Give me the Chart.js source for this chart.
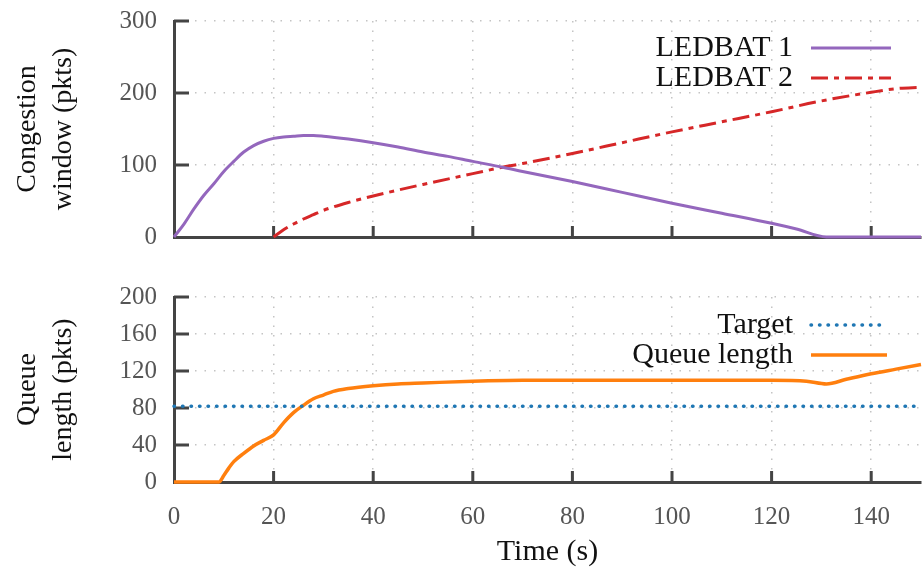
<!DOCTYPE html>
<html>
<head>
<meta charset="utf-8">
<script src="https://cdn.jsdelivr.net/npm/chart.js@4.4.1/dist/chart.umd.min.js"></script>
<style>
  body { margin: 0; background: #fff; }
  #wrap { position: relative; width: 923px; height: 573px; }
  canvas { position: absolute; left: 0; }
  #cwnd { top: 0; }
  #queue { top: 260px; }
</style>
</head>
<body>
<div id="wrap">
  <canvas id="cwnd" width="923" height="260"></canvas>
  <canvas id="queue" width="923" height="313"></canvas>
</div>
<script>
// congestion window of the two flows (pkts)
const cwndTime = [0, 2, 4, 6, 8, 10, 12, 14, 16, 18, 20, 22, 24, 26, 28, 30, 35, 40, 45, 50, 55, 60, 66, 70, 80, 90, 100, 110, 120, 125, 131, 140, 150];
const ledbat1  = [0, 18, 39, 58, 74, 91, 105, 118, 127, 133, 137, 139, 140, 141, 141, 140, 136, 131, 125, 118, 112, 105, 97, 91, 77, 62, 47, 33, 19, 11, 0, 0, 0];

const ledbat2Time = [20, 22, 24, 26, 28, 30, 35, 40, 50, 60, 66, 70, 80, 90, 100, 110, 120, 130, 140, 145, 150];
const ledbat2     = [0, 10, 18, 25, 31, 37, 48, 57, 73, 88, 97, 102, 116, 131, 146, 160, 174, 189, 201, 206, 208];

// bottleneck queue (pkts)
const queueTime = [0, 9, 10, 11, 12, 14, 16, 18, 20, 22, 24, 26, 28, 30, 32, 35, 40, 45, 50, 60, 70, 80, 90, 100, 110, 120, 127, 131, 135, 140, 145, 150];
const queueLen  = [0, 0, 7, 15, 22, 31, 39, 45, 51, 64, 75, 83, 90, 94, 98, 101, 104, 106, 107, 109, 110, 110, 110, 110, 110, 110, 109, 106, 111, 117, 122, 127];
const target = 82;

const axisColor = '#444';
const tickColor = '#555';
const gridColor = '#c4c4c4';
const serif = 'Liberation Serif';

Chart.defaults.font.family = serif;
Chart.defaults.color = tickColor;

function pts(xs, ys) {
  return xs.map((x, i) => ({ x: x, y: ys[i] }));
}

// gnuplot-style tick marks pointing into the plot
const innerTicks = {
  id: 'innerTicks',
  beforeDatasetsDraw(chart) {
    const { ctx, chartArea: a } = chart;
    const x = chart.scales.x, y = chart.scales.y;
    ctx.save();
    ctx.strokeStyle = axisColor;
    ctx.lineWidth = 3;
    ctx.beginPath();
    x.ticks.forEach(t => {
      if (t.value === 0) return;
      const px = x.getPixelForValue(t.value);
      ctx.moveTo(px, a.bottom);
      ctx.lineTo(px, a.bottom - 11);
    });
    y.ticks.forEach(t => {
      if (t.value === 0) return;
      const py = y.getPixelForValue(t.value);
      ctx.moveTo(a.left, py);
      ctx.lineTo(a.left + 15, py);
    });
    ctx.stroke();
    ctx.restore();
  }
};

// key in the top right corner: text first, sample line after it
const sideLegend = {
  id: 'sideLegend',
  afterDatasetsDraw(chart, args, opts) {
    const { ctx, chartArea: a } = chart;
    const x2 = a.right - opts.right;
    const x1 = x2 - opts.length;
    chart.data.datasets.forEach((ds, i) => {
      const y = a.top + opts.top + i * opts.step;
      ctx.save();
      ctx.font = '30px "' + serif + '"';
      ctx.fillStyle = '#111';
      ctx.textAlign = 'right';
      ctx.textBaseline = 'middle';
      ctx.fillText(ds.label, x1 - 18, y);
      ctx.strokeStyle = ds.borderColor;
      ctx.lineWidth = ds.borderWidth;
      ctx.lineCap = ds.borderCapStyle || 'butt';
      ctx.setLineDash(ds.borderDash || []);
      ctx.beginPath();
      ctx.moveTo(x1, y);
      ctx.lineTo(x2, y);
      ctx.stroke();
      ctx.restore();
    });
  }
};

function xAxis(showLabels, height) {
  return {
    type: 'linear',
    min: 0,
    max: 150,
    ticks: {
      display: showLabels,
      stepSize: 20,
      includeBounds: false,
      padding: 20,
      color: tickColor,
      font: { size: 25 }
    },
    grid: { color: gridColor, lineWidth: 1.5, drawTicks: false },
    border: { color: axisColor, width: 3, dash: [1.5, 8] },
    title: {
      display: showLabels,
      text: 'Time (s)',
      color: '#111',
      font: { size: 30 },
      padding: { top: 0, bottom: 3 }
    },
    afterFit(scale) {
      scale.height = height;
      scale.paddingLeft = 0;
      scale.paddingRight = 0;
    }
  };
}

function yAxis(max, step, title) {
  return {
    min: 0,
    max: max,
    ticks: { stepSize: step, padding: 17, color: tickColor, font: { size: 25 } },
    grid: { color: gridColor, lineWidth: 1.5, drawTicks: false },
    border: { color: axisColor, width: 3, dash: [1.5, 8] },
    title: {
      display: true,
      text: title,
      color: '#111',
      font: { size: 28, lineHeight: 1.3 },
      padding: { top: 9, bottom: 0 }
    },
    afterFit(scale) {
      scale.width = 174;
      scale.paddingTop = 0;
      scale.paddingBottom = 0;
    }
  };
}

const common = {
  responsive: false,
  animation: false,
  elements: { point: { radius: 0 } },
  plugins: { legend: { display: false }, tooltip: { enabled: false } }
};

new Chart(document.getElementById('cwnd'), {
  type: 'line',
  data: {
    datasets: [
      {
        label: 'LEDBAT 1',
        data: pts(cwndTime, ledbat1),
        borderColor: '#9467bd',
        borderWidth: 3,
        cubicInterpolationMode: 'monotone',
        clip: false
      },
      {
        label: 'LEDBAT 2',
        data: pts(ledbat2Time, ledbat2),
        borderColor: '#d62728',
        borderWidth: 3,
        borderDash: [17, 6, 5, 6],
        cubicInterpolationMode: 'monotone',
        clip: false
      }
    ]
  },
  options: Object.assign({}, common, {
    layout: { padding: { top: 21, right: 2, left: 0, bottom: 0 } },
    scales: {
      x: xAxis(false, 23),
      y: yAxis(300, 100, ['Congestion', 'window (pkts)'])
    },
    plugins: Object.assign({}, common.plugins, {
      sideLegend: { right: 30, length: 80, top: 27, step: 30 }
    })
  }),
  plugins: [innerTicks, sideLegend]
});

new Chart(document.getElementById('queue'), {
  type: 'line',
  data: {
    datasets: [
      {
        label: 'Target',
        data: pts([0, 150], [target, target]),
        borderColor: '#1f77b4',
        borderWidth: 3.5,
        borderDash: [0.5, 8],
        borderCapStyle: 'round',
        clip: false
      },
      {
        label: 'Queue length',
        data: pts(queueTime, queueLen),
        borderColor: '#ff7f0e',
        borderWidth: 3.5,
        cubicInterpolationMode: 'monotone',
        clip: false
      }
    ]
  },
  options: Object.assign({}, common, {
    layout: { padding: { top: 37, right: 2, left: 0, bottom: 0 } },
    scales: {
      x: xAxis(true, 91),
      y: yAxis(200, 40, ['Queue', 'length (pkts)'])
    },
    plugins: Object.assign({}, common.plugins, {
      sideLegend: { right: 34, length: 76, top: 28, step: 30 }
    })
  }),
  plugins: [innerTicks, sideLegend]
});
</script>
</body>
</html>
